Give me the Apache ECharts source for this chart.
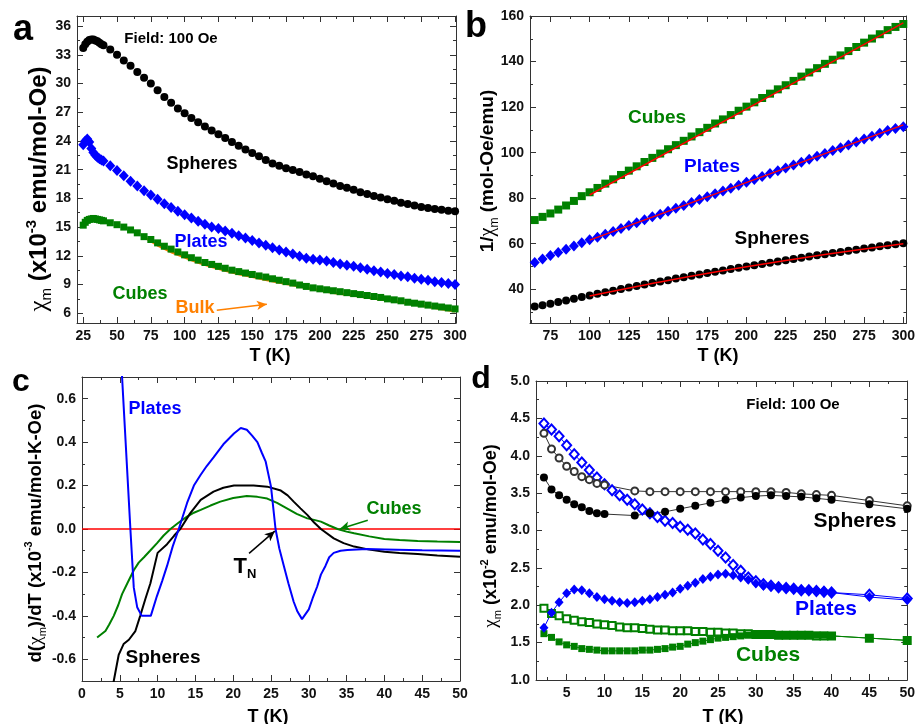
<!DOCTYPE html>
<html><head><meta charset="utf-8">
<script src="https://cdn.jsdelivr.net/npm/echarts@6/dist/echarts.min.js"></script>
<style>html,body{margin:0;padding:0;background:#fff}#c{width:918px;height:724px}</style>
</head><body><div id="c"></div>
<script>
// ---------- Panel a: chi_m vs T ----------
const A_T = [25,26.5,28,29.5,31,32.5,34,35.5,37,38.5,40,45,50,55,60,65,70,75,80,85,90,95,100,105,110,115,120,125,130,135,140,145,150,155,160,165,170,175,180,185,190,195,200,205,210,215,220,225,230,235,240,245,250,255,260,265,270,275,280,285,290,295,300];
const A_SPHERES = [33.7,34.1,34.35,34.55,34.6,34.6,34.5,34.4,34.25,34.1,34.0,33.55,33.0,32.4,31.85,31.2,30.6,30.0,29.3,28.6,28.0,27.4,26.9,26.4,25.95,25.5,25.1,24.7,24.3,23.9,23.5,23.1,22.75,22.4,22.0,21.65,21.4,21.15,20.95,20.75,20.5,20.3,20.05,19.8,19.55,19.3,19.1,18.9,18.65,18.45,18.25,18.1,17.9,17.75,17.55,17.4,17.25,17.1,17.0,16.88,16.8,16.7,16.65];
const A_PLATES = [23.6,24.0,24.2,23.9,23.2,22.8,22.5,22.3,22.15,22.0,21.9,21.4,20.9,20.35,19.8,19.3,18.8,18.35,17.9,17.45,17.05,16.65,16.3,15.95,15.6,15.3,15.0,14.85,14.6,14.35,14.1,13.85,13.6,13.35,13.1,12.85,12.6,12.4,12.2,11.95,11.75,11.65,11.55,11.45,11.3,11.15,11.0,10.9,10.75,10.6,10.45,10.3,10.15,10.05,9.9,9.8,9.65,9.55,9.45,9.3,9.2,9.1,9.0];
const A_CUBES = [15.2,15.5,15.7,15.8,15.85,15.9,15.85,15.8,15.75,15.7,15.65,15.45,15.25,15.0,14.7,14.4,14.0,13.7,13.35,13.0,12.7,12.4,12.1,11.8,11.55,11.3,11.1,10.9,10.7,10.5,10.35,10.2,10.05,9.9,9.78,9.6,9.45,9.3,9.15,8.95,8.8,8.65,8.55,8.45,8.35,8.25,8.15,8.05,7.95,7.85,7.75,7.65,7.5,7.4,7.3,7.15,7.05,6.95,6.85,6.75,6.65,6.55,6.45];
const A_BULK_T = [72,80,90,100,110,120,130,140,150,160,170,180,190,200,210,220,230,240,250,260,270,280,290,300];
const A_BULK = [13.8,13.1,12.4,11.85,11.3,10.85,10.45,10.1,9.8,9.5,9.2,8.95,8.65,8.4,8.15,7.95,7.75,7.55,7.35,7.15,6.9,6.7,6.45,6.2];
const A_BULK_ARROW = [[123.8,6.31],[160.8,6.94]];

// ---------- Panel b: 1/chi_m vs T ----------
const B_T = [65,70,75,80,85,90,95,100,105,110,115,120,125,130,135,140,145,150,155,160,165,170,175,180,185,190,195,200,205,210,215,220,225,230,235,240,245,250,255,260,265,270,275,280,285,290,295,300];
const B_CUBES = [70.4,71.8,73.3,75.0,76.8,78.8,80.9,82.6,84.5,86.4,88.3,90.2,92.1,94.0,95.9,97.7,99.6,101.5,103.3,105.2,107.1,109.0,110.9,112.8,114.6,116.5,118.4,120.2,122.1,124.0,125.9,127.8,129.6,131.5,133.4,135.2,137.1,139.0,140.8,142.7,144.6,146.4,148.3,150.1,152.0,153.8,155.2,156.5];
const B_PLATES = [51.8,53.3,54.8,56.2,57.6,59.0,60.4,61.7,62.9,64.2,65.4,66.7,68.0,69.2,70.5,71.8,73.0,74.3,75.6,76.8,78.1,79.4,80.6,81.9,83.2,84.4,85.7,87.0,88.2,89.5,90.8,92.0,93.3,94.6,95.8,97.1,98.4,99.6,100.9,102.2,103.4,104.7,106.0,107.2,108.5,109.7,110.6,111.4];
const B_SPHERES = [32.4,33.0,33.7,34.4,35.1,35.8,36.6,37.3,38.0,38.7,39.4,40.1,40.8,41.5,42.1,42.8,43.4,44.0,44.7,45.3,45.9,46.5,47.1,47.7,48.3,48.9,49.5,50.0,50.6,51.1,51.7,52.2,52.8,53.3,53.8,54.4,54.9,55.4,55.9,56.4,56.9,57.4,57.9,58.4,58.9,59.3,59.8,60.2];
const B_FIT_CUBES = [[100,81.4],[300,157.0]];
const B_FIT_PLATES = [[100,61.6],[300,112.2]];
const B_FIT_SPHERES = [[100,37.1],[150,43.9],[200,49.9],[250,55.3],[300,60.0]];

// ---------- Panel c: d(chi_m)/dT vs T ----------
const C_PLATES = [[5.1,0.84],[5.3,0.7],[6.4,0.0],[6.85,-0.27],[7.3,-0.36],[7.9,-0.40],[9.1,-0.40],[9.9,-0.31],[10.6,-0.24],[11.25,-0.17],[12.0,-0.08],[12.8,0.0],[13.9,0.12],[14.8,0.2],[15.7,0.25],[16.5,0.29],[17.4,0.33],[18.7,0.39],[20.1,0.44],[21.0,0.465],[21.8,0.457],[22.5,0.43],[23.2,0.40],[23.8,0.35],[24.3,0.31],[25.0,0.195],[25.6,0.0],[26.1,-0.09],[26.7,-0.17],[27.3,-0.25],[28.0,-0.335],[28.5,-0.38],[29.1,-0.415],[30.0,-0.37],[30.5,-0.32],[31.1,-0.266],[31.6,-0.21],[32.2,-0.17],[32.7,-0.13],[33.3,-0.11],[34.2,-0.10],[35.1,-0.097],[37.7,-0.092],[40,-0.094],[45,-0.098],[50,-0.1]];
const C_SPHERES = [[4.0,-0.74],[4.2,-0.70],[4.85,-0.58],[5.5,-0.53],[6.2,-0.51],[7.06,-0.47],[7.7,-0.40],[8.4,-0.32],[9.05,-0.25],[10.0,-0.11],[11.25,-0.07],[12.2,-0.03],[13.0,0.0],[14.3,0.072],[15.7,0.134],[17.4,0.172],[18.7,0.19],[20.1,0.2],[22.7,0.2],[24.5,0.195],[26.3,0.177],[27.2,0.155],[28.0,0.126],[28.9,0.095],[29.8,0.065],[30.7,0.03],[31.6,0.0],[33.3,-0.043],[34.6,-0.065],[36.0,-0.081],[38,-0.095],[40,-0.105],[42,-0.11],[44.4,-0.115],[47,-0.122],[50,-0.128]];
const C_CUBES = [[2.0,-0.50],[3.1,-0.47],[3.6,-0.44],[4.2,-0.40],[4.8,-0.35],[5.3,-0.30],[6.0,-0.25],[6.85,-0.19],[7.5,-0.155],[8.2,-0.13],[9.0,-0.1],[9.9,-0.066],[10.8,-0.03],[11.7,0.0],[12.8,0.03],[13.9,0.057],[14.8,0.075],[15.7,0.088],[17.0,0.108],[18.3,0.126],[20.0,0.143],[21.8,0.152],[23.2,0.148],[24.5,0.14],[25.8,0.12],[27.1,0.095],[28.4,0.07],[29.8,0.049],[30.7,0.042],[31.6,0.034],[32.7,0.016],[33.8,0.0],[35.0,-0.012],[36.0,-0.02],[38,-0.034],[40,-0.046],[42,-0.051],[44.4,-0.055],[47,-0.058],[50,-0.06]];
const C_ZERO = [[0,0],[50,0]];
const C_CUBES_ARROW = [[37.8,0.04],[34.1,0.0]];
const C_TN_ARROW = [[22.1,-0.112],[25.5,-0.01]];

// ---------- Panel d: chi_m vs T (low T) ----------
const D_T_SPH = [2,3,4,5,6,7,8,9,10,14,16,18,20,22,24,26,28,30,32,34,36,38,40,45,50];
const D_SPH_FILLED = [3.71,3.55,3.47,3.41,3.35,3.31,3.26,3.23,3.22,3.20,3.23,3.25,3.29,3.33,3.37,3.41,3.44,3.46,3.47,3.46,3.45,3.43,3.41,3.35,3.29];
const D_SPH_OPEN = [4.30,4.09,3.97,3.86,3.79,3.72,3.68,3.63,3.61,3.53,3.52,3.52,3.52,3.52,3.52,3.52,3.52,3.52,3.52,3.51,3.49,3.48,3.47,3.40,3.33];
const D_T = [2,3,4,5,6,7,8,9,10,11,12,13,14,15,16,17,18,19,20,21,22,23,24,25,26,27,28,29,30,31,32,33,34,35,36,37,38,39,40,45,50];
const D_PLA_OPEN = [4.43,4.35,4.26,4.14,4.02,3.91,3.81,3.71,3.62,3.54,3.47,3.41,3.35,3.28,3.23,3.18,3.13,3.10,3.05,3.01,2.96,2.88,2.82,2.73,2.64,2.54,2.46,2.37,2.32,2.28,2.26,2.24,2.23,2.22,2.20,2.20,2.19,2.18,2.17,2.14,2.09];
const D_PLA_FILLED = [1.70,1.90,2.04,2.16,2.21,2.20,2.16,2.11,2.08,2.06,2.04,2.03,2.04,2.06,2.08,2.11,2.14,2.17,2.22,2.26,2.30,2.35,2.38,2.41,2.42,2.40,2.37,2.34,2.29,2.26,2.25,2.24,2.23,2.22,2.21,2.20,2.20,2.19,2.17,2.11,2.07];
const D_CUB_OPEN = [1.96,1.89,1.86,1.82,1.80,1.78,1.77,1.75,1.74,1.73,1.71,1.70,1.70,1.69,1.68,1.67,1.67,1.66,1.66,1.66,1.65,1.65,1.64,1.64,1.63,1.63,1.62,1.62,1.61,1.61,1.61,1.60,1.60,1.60,1.60,1.60,1.59,1.59,1.59,1.56,1.53];
const D_CUB_FILLED = [1.62,1.57,1.51,1.47,1.45,1.42,1.41,1.40,1.39,1.39,1.39,1.39,1.39,1.40,1.40,1.41,1.42,1.44,1.45,1.48,1.50,1.52,1.54,1.56,1.57,1.58,1.59,1.60,1.60,1.60,1.60,1.60,1.60,1.60,1.60,1.60,1.60,1.60,1.59,1.56,1.53];

// ---------- Tick values ----------
const A_X_TICKS = [25,50,75,100,125,150,175,200,225,250,275,300];
const A_X_MINOR = [37.5,62.5,87.5,112.5,137.5,162.5,187.5,212.5,237.5,262.5,287.5];
const A_Y_TICKS = [6,9,12,15,18,21,24,27,30,33,36];
const A_Y_MINOR = [7.5,10.5,13.5,16.5,19.5,22.5,25.5,28.5,31.5,34.5];
const B_X_TICKS = [75,100,125,150,175,200,225,250,275,300];
const B_X_MINOR = [62.5,87.5,112.5,137.5,162.5,187.5,212.5,237.5,262.5,287.5];
const B_Y_TICKS = [40,60,80,100,120,140,160];
const B_Y_MINOR = [30,50,70,90,110,130,150];
const C_X_TICKS = [0,5,10,15,20,25,30,35,40,45,50];
const C_X_MINOR = [2.5,7.5,12.5,17.5,22.5,27.5,32.5,37.5,42.5,47.5];
const C_Y_TICKS = [-0.6,-0.4,-0.2,0.0,0.2,0.4,0.6];
const C_Y_MINOR = [-0.5,-0.3,-0.1,0.1,0.3,0.5];
const D_X_TICKS = [5,10,15,20,25,30,35,40,45,50];
const D_X_MINOR = [2.5,7.5,12.5,17.5,22.5,27.5,32.5,37.5,42.5,47.5];
const D_Y_TICKS = [1.0,1.5,2.0,2.5,3.0,3.5,4.0,4.5,5.0];
const D_Y_MINOR = [1.25,1.75,2.25,2.75,3.25,3.75,4.25,4.75];

// ---------- build ----------
const FONT = '"Liberation Sans", Arial, sans-serif';
const BLACK = '#000000', BLUE = '#0000ff', GREEN = '#008000', ORANGE = '#ff8000', RED = '#ff0000';
const AX = '#333333';
function zip(t, v) { return t.map((x, i) => [x, v[i]]); }

function mkAxes(dim, g, min, max, major, minor, fmt) {
  const pos = dim === 'x' ? ['bottom', 'top'] : ['left', 'right'];
  const res = [];
  pos.forEach((p, k) => {
    res.push({
      type: 'value', gridIndex: g, min: min, max: max, position: p,
      splitLine: { show: false },
      axisLine: { show: true, onZero: false, lineStyle: { color: AX, width: 1 } },
      axisTick: { show: true, inside: true, length: 6, customValues: major, lineStyle: { color: AX, width: 1 } },
      axisLabel: k === 0 ? { show: true, customValues: major, formatter: fmt, fontFamily: FONT, fontWeight: 'bold', fontSize: 14, color: '#111', margin: 6 } : { show: false }
    });
    res.push({
      type: 'value', gridIndex: g, min: min, max: max, position: p,
      splitLine: { show: false },
      axisLine: { show: false, onZero: false },
      axisTick: { show: true, inside: true, length: 3, customValues: minor, lineStyle: { color: AX, width: 1 } },
      axisLabel: { show: false }
    });
  });
  return res;
}
const intFmt = v => String(Math.round(v));
const dec1 = v => (Math.abs(v) < 1e-9 ? 0 : v).toFixed(1);

const xAxes = [].concat(
  mkAxes('x', 0, 20.4, 300.7, A_X_TICKS, A_X_MINOR, intFmt),
  mkAxes('x', 1, 62, 302, B_X_TICKS, B_X_MINOR, intFmt),
  mkAxes('x', 2, 0, 50, C_X_TICKS, C_X_MINOR, intFmt),
  mkAxes('x', 3, 0.95, 50, D_X_TICKS, D_X_MINOR, intFmt)
);
const yAxes = [].concat(
  mkAxes('y', 0, 4.98, 37.05, A_Y_TICKS, A_Y_MINOR, intFmt),
  mkAxes('y', 1, 25.2, 160, B_Y_TICKS, B_Y_MINOR, intFmt),
  mkAxes('y', 2, -0.7, 0.7, C_Y_TICKS, C_Y_MINOR, dec1),
  mkAxes('y', 3, 1.0, 5.0, D_Y_TICKS, D_Y_MINOR, dec1)
);

function sc(g, data, symbol, size, color) {
  return { type: 'scatter', xAxisIndex: g * 4, yAxisIndex: g * 4, data: data, symbol: symbol, symbolSize: size,
    itemStyle: { color: color, opacity: 1 }, z: 3, silent: true };
}
function ln(g, data, color, width, extra) {
  return Object.assign({ type: 'line', xAxisIndex: g * 4, yAxisIndex: g * 4, data: data, showSymbol: false, symbol: 'none',
    lineStyle: { color: color, width: width }, itemStyle: { color: color }, z: 4, silent: true }, extra || {});
}
function arrow(g, pts, color) {
  return { type: 'line', xAxisIndex: g * 4, yAxisIndex: g * 4, data: [], silent: true, z: 6,
    markLine: { silent: true, animation: false, symbol: ['none', 'arrow'], symbolSize: [7, 10], label: { show: false },
      lineStyle: { color: color, width: 1.5, type: 'solid' },
      data: [[{ coord: pts[0] }, { coord: pts[1] }]] } };
}
function dl(data, symbol, size, color, lineColor) {
  return { type: 'line', xAxisIndex: 12, yAxisIndex: 12, data: data, symbol: symbol, symbolSize: size, showSymbol: true,
    lineStyle: { color: lineColor, width: 1 }, itemStyle: { color: color, borderWidth: 1.5 }, z: 4, silent: true };
}

const series = [
  // a
  ln(0, zip(A_BULK_T, A_BULK), ORANGE, 2.5, { z: 2 }),
  sc(0, zip(A_T, A_SPHERES), 'circle', 8, BLACK),
  sc(0, zip(A_T, A_PLATES), 'diamond', [10, 11], BLUE),
  sc(0, zip(A_T, A_CUBES), 'rect', 7, GREEN),
  arrow(0, A_BULK_ARROW, ORANGE),
  // b
  sc(1, zip(B_T, B_CUBES), 'rect', 8, GREEN),
  sc(1, zip(B_T, B_PLATES), 'diamond', [10, 11], BLUE),
  sc(1, zip(B_T, B_SPHERES), 'circle', 8, BLACK),
  ln(1, B_FIT_CUBES, RED, 1.5, { z: 5 }),
  ln(1, B_FIT_PLATES, RED, 1.5, { z: 5 }),
  ln(1, B_FIT_SPHERES, RED, 1.5, { z: 5, smooth: 0.3 }),
  // c
  ln(2, C_ZERO, RED, 1.5, { z: 2 }),
  ln(2, C_CUBES, GREEN, 2),
  ln(2, C_SPHERES, BLACK, 2),
  ln(2, C_PLATES, BLUE, 2),
  arrow(2, C_CUBES_ARROW, GREEN),
  arrow(2, C_TN_ARROW, BLACK),
  // d
  dl(zip(D_T, D_CUB_OPEN), 'emptyRect', 7, GREEN, GREEN),
  dl(zip(D_T, D_CUB_FILLED), 'rect', 7, GREEN, GREEN),
  dl(zip(D_T, D_PLA_OPEN), 'emptyDiamond', [9, 10], BLUE, BLUE),
  dl(zip(D_T, D_PLA_FILLED), 'diamond', [9, 10], BLUE, BLUE),
  dl(zip(D_T_SPH, D_SPH_OPEN), 'emptyCircle', 7, '#333333', '#333333'),
  dl(zip(D_T_SPH, D_SPH_FILLED), 'circle', 8, BLACK, '#333333')
];

function txt(x, y, text, size, color) {
  return { type: 'text', x: x, y: y, z: 100, silent: true,
    style: { text: text, fill: color, font: 'bold ' + size + 'px ' + FONT, align: 'center', verticalAlign: 'middle' } };
}
function richStyles(s) {
  const ss = Math.round(s * 0.62);
  return {
    main: { font: 'bold ' + s + 'px ' + FONT, fill: '#000', lineHeight: s + 6 },
    chi: { font: 'normal ' + (s + 1) + 'px "Liberation Serif", serif', fill: '#000', lineHeight: s + 6 },
    sub: { font: 'normal ' + ss + 'px ' + FONT, fill: '#000', lineHeight: ss + 2, verticalAlign: 'bottom' },
    sup: { font: 'bold ' + ss + 'px ' + FONT, fill: '#000', lineHeight: ss + 2, verticalAlign: 'top' }
  };
}
function vtitle(x, y, text, s) {
  return { type: 'text', x: x, y: y, rotation: Math.PI / 2, z: 100, silent: true,
    style: { text: text, rich: richStyles(s), align: 'center', verticalAlign: 'middle', fill: '#000' } };
}

const graphics = [
  txt(23, 30, 'a', 36, BLACK), txt(476, 27, 'b', 36, BLACK),
  txt(21, 382, 'c', 32, BLACK), txt(481, 379, 'd', 32, BLACK),
  // axis titles
  txt(270, 356, 'T (K)', 18, BLACK), txt(718, 356, 'T (K)', 18, BLACK),
  txt(268, 717, 'T (K)', 18, BLACK), txt(723, 717, 'T (K)', 18, BLACK),
  vtitle(39, 189, '{chi|χ}{sub|m}{main| (x10}{sup|-3}{main| emu/mol-Oe)}', 24),
  vtitle(488, 171, '{main|1/}{chi|χ}{sub|m}{main| (mol-Oe/emu)}', 19),
  vtitle(36, 533, '{main|d(}{chi|χ}{sub|m}{main|)/dT (x10}{sup|-3}{main| emu/mol-K-Oe)}', 18.5),
  vtitle(491, 536, '{chi|χ}{sub|m}{main| (x10}{sup|-2}{main| emu/mol-Oe)}', 18),
  // panel a annotations
  txt(171, 39, 'Field: 100 Oe', 15, BLACK),
  txt(202, 164, 'Spheres', 18, BLACK),
  txt(201, 242, 'Plates', 18, BLUE),
  txt(140, 294, 'Cubes', 18, GREEN),
  txt(195, 308, 'Bulk', 18, ORANGE),
  // panel b
  txt(657, 118, 'Cubes', 19, GREEN),
  txt(712, 167, 'Plates', 19, BLUE),
  txt(772, 239, 'Spheres', 19, BLACK),
  // panel c
  txt(155, 409, 'Plates', 18, BLUE),
  txt(394, 509, 'Cubes', 18, GREEN),
  txt(163, 658, 'Spheres', 19, BLACK),
  { type: 'text', x: 245, y: 567, z: 100, silent: true,
    style: { text: '{t|T}{n|N}', align: 'center', verticalAlign: 'middle', fill: '#000',
      rich: { t: { font: 'bold 22px ' + FONT, fill: '#000', lineHeight: 28 }, n: { font: 'bold 13px ' + FONT, fill: '#000', lineHeight: 14, verticalAlign: 'bottom' } } } },
  // panel d
  txt(793, 405, 'Field: 100 Oe', 15, BLACK),
  txt(855, 521, 'Spheres', 21, BLACK),
  txt(826, 609, 'Plates', 21, BLUE),
  txt(768, 655, 'Cubes', 21, GREEN)
];

const chart = echarts.init(document.getElementById('c'), null, { renderer: 'canvas' });
chart.setOption({
  animation: false,
  backgroundColor: '#ffffff',
  grid: [
    { left: 77, top: 16, width: 379, height: 307 },
    { left: 530, top: 16, width: 381, height: 307 },
    { left: 82, top: 377, width: 378, height: 304 },
    { left: 536, top: 381, width: 375, height: 299 }
  ],
  xAxis: xAxes,
  yAxis: yAxes,
  series: series,
  graphic: graphics
});
</script>
</body></html>
